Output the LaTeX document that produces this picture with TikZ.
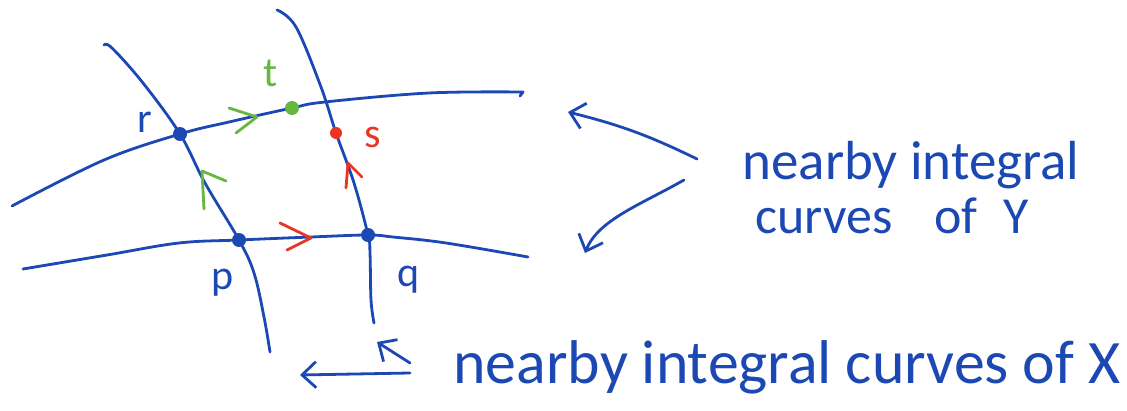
\documentclass[tikz,border=0pt]{standalone}
\usepackage{fontspec}
\setmainfont{Carlito}
\usetikzlibrary{arrows.meta}
\definecolor{inkblue}{RGB}{28,72,180}
\definecolor{inkgreen}{RGB}{104,182,64}
\definecolor{inkred}{RGB}{234,52,36}
\begin{document}
\begin{tikzpicture}[x=0.5pt,y=-0.5pt,
  pen/.style={line width=1.4pt, line cap=round, line join=round},
  bluepen/.style={pen, draw=inkblue},
  greenpen/.style={pen, draw=inkgreen},
  redpen/.style={pen, draw=inkred},
  pointer/.style={bluepen, -{Straight Barb[length=7pt,width=13pt,line width=1.4pt]}},
  dot/.style={circle, inner sep=0pt, minimum size=7pt},
  letter/.style={inner sep=0pt, font=\fontsize{21}{21}\selectfont},
  caption/.style={inner sep=0pt, anchor=west, text=inkblue}]
\useasboundingbox (0,0) rectangle (1127,411);
% crossing points
\coordinate (r) at (180,134);
\coordinate (t) at (292,108);
\coordinate (s) at (336,133);
\coordinate (p) at (239,240);
\coordinate (q) at (368,235);
% integral curves of X (horizontal)
\draw[bluepen] plot[smooth, tension=0.6] coordinates {(12,206) (104,160) (r) (229,122) (t) (325,102) (429,93) (523,92)} -- (520,96);
\draw[bluepen] plot[smooth, tension=0.6] coordinates {(23,269) (107,255) (179,243) (p) (311,237) (q) (393,237) (446,243) (528,257)};
% integral curves of Y (vertical)
\draw[bluepen] plot[smooth, tension=0.6] coordinates {(104,45) (112,48) (143,83) (r) (205,183) (p) (254,273) (264,317) (270,352)};
\draw[bluepen] plot[smooth, tension=0.6] coordinates {(277,10) (296,27) (321,87) (s) (354,183) (q) (370,253) (371,300) (374,323)};
% direction marks
\draw[greenpen] (229,108) -- (257,117) -- (236,133);
\draw[greenpen] (204,209) -- (202,171) -- (226,181);
\draw[redpen] (280,223) -- (311,238) -- (287,250);
\draw[redpen] (346,188) -- (348,163) -- (362,177);
% points
\node[dot, fill=inkblue] (rdot) at (r) {};
\node[dot, fill=inkblue] (pdot) at (p) {};
\node[dot, fill=inkblue] (qdot) at (q) {};
\node[dot, fill=inkgreen] (tdot) at (t) {};
\node[dot, fill=inkred, minimum size=6pt] (sdot) at (s) {};
% labels
\node[letter, text=inkblue] (rlab) at (145,122) {r};
\node[letter, text=inkgreen] (tlab) at (271,73) {t};
\node[letter, text=inkred] (slab) at (373,137) {s};
\node[letter, text=inkblue] (plab) at (223,283) {p};
\node[letter, text=inkblue] (qlab) at (409,280) {q};
% captions
\node[caption] (ycap1) at (742,165) {\resizebox{168.5pt}{!}{nearby integral}};
\node[caption, anchor=base west, font=\fontsize{26}{26}\selectfont] (ycap2) at (755,233) {curves\hspace{21pt}of\hspace{13pt}Y};
\node[caption] (xcap) at (453,367) {\resizebox{333.5pt}{!}{nearby integral curves of X}};
% pointers
\coordinate (ya) at (697,159);
\coordinate (yb) at (568,112);
\coordinate (yc) at (684,180);
\coordinate (yd) at (585,253);
\coordinate (xa) at (410,373);
\coordinate (xb) at (300,375);
\coordinate (xc) at (410,363);
\coordinate (xd) at (377,342);
\draw[pointer] (ya) to[bend right=6] (yb);
\draw[pointer] (yc) .. controls (640,205) and (598,220) .. (yd);
\draw[pointer] (xa) -- (xb);
\draw[pointer] (xc) -- (xd);
\end{tikzpicture}
\end{document}
